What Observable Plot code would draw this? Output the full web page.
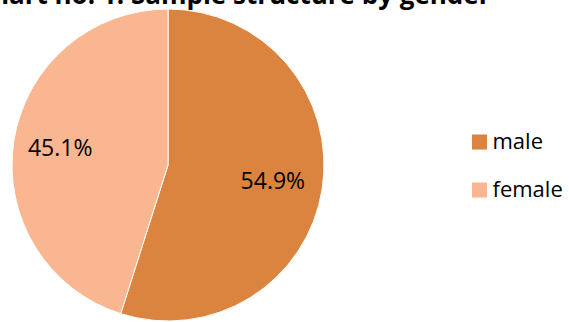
<!DOCTYPE html>
<html><head><meta charset="utf-8">
<script src="https://cdn.jsdelivr.net/npm/d3@7"></script>
<script src="https://cdn.jsdelivr.net/npm/@observablehq/plot@0.6"></script>
<style>html,body{margin:0;padding:0;background:#fff;overflow:hidden}</style>
</head><body><div id="chart"></div>
<script>
const title = "Chart no. 1. Sample structure by gender";
const categories = ["male", "female"];
const values = [54.9, 45.1];
const labels = ["54.9%", "45.1%"];
const colors = ["#DB843F", "#F9B690"];

// layout
const W = 569, H = 322;
const cx = 168, cy = 165, R = 156;
const labelR = 0.69 * R;
const legendX = 479, legendY0 = 141.5, legendGap = 48, legendTextX = 492;
const titleRight = 490, titleBaseline = 3;

const rows = categories.map((c, i) => ({category: c, value: values[i], label: labels[i], i}));
const arcs = d3.pie().sort(null).value(d => d.value)(rows);
const data = arcs.map(a => {
  const mid = (a.startAngle + a.endAngle) / 2;
  return {...a.data, a0: a.startAngle, a1: a.endAngle,
    lx: cx + labelR * Math.sin(mid) - 2, ly: cy - labelR * Math.cos(mid)};
});

const slices = (index, scales) => {
  const g = d3.create("svg:g");
  const arc = d3.arc().innerRadius(0).outerRadius(R);
  g.selectAll("path").data(data).join("path")
    .attr("transform", `translate(${scales.x(cx)},${scales.y(cy)})`)
    .attr("d", d => arc({startAngle: d.a0, endAngle: d.a1}))
    .attr("fill", d => scales.color(d.category))
    .attr("stroke", "#fff").attr("stroke-width", 1);
  return g.node();
};

const chart = Plot.plot({
  width: W, height: H, margin: 0,
  x: {domain: [0, W], range: [0, W], axis: null},
  y: {domain: [0, H], range: [0, H], axis: null},
  color: {domain: categories, range: colors},
  style: {fontFamily: "'Open Sans', sans-serif", background: "#fff", overflow: "visible"},
  marks: [
    slices,
    Plot.text(data, {x: "lx", y: "ly", text: "label", fontSize: 23, fill: "#000"}),
    Plot.dot(data, {x: () => legendX, y: d => legendY0 + d.i * legendGap, symbol: "square", r: 8.5, fill: "category", stroke: null}),
    Plot.text(data, {x: () => legendTextX, y: d => legendY0 + d.i * legendGap, text: "category", textAnchor: "start", fontSize: 22, fill: "#000"}),
    Plot.text([title], {x: () => titleRight, y: () => titleBaseline, text: d => d, textAnchor: "end", lineAnchor: "bottom", fontSize: 26, fontWeight: "bold", fill: "#000"})
  ]
});
document.getElementById("chart").appendChild(chart);
</script>
</body></html>
